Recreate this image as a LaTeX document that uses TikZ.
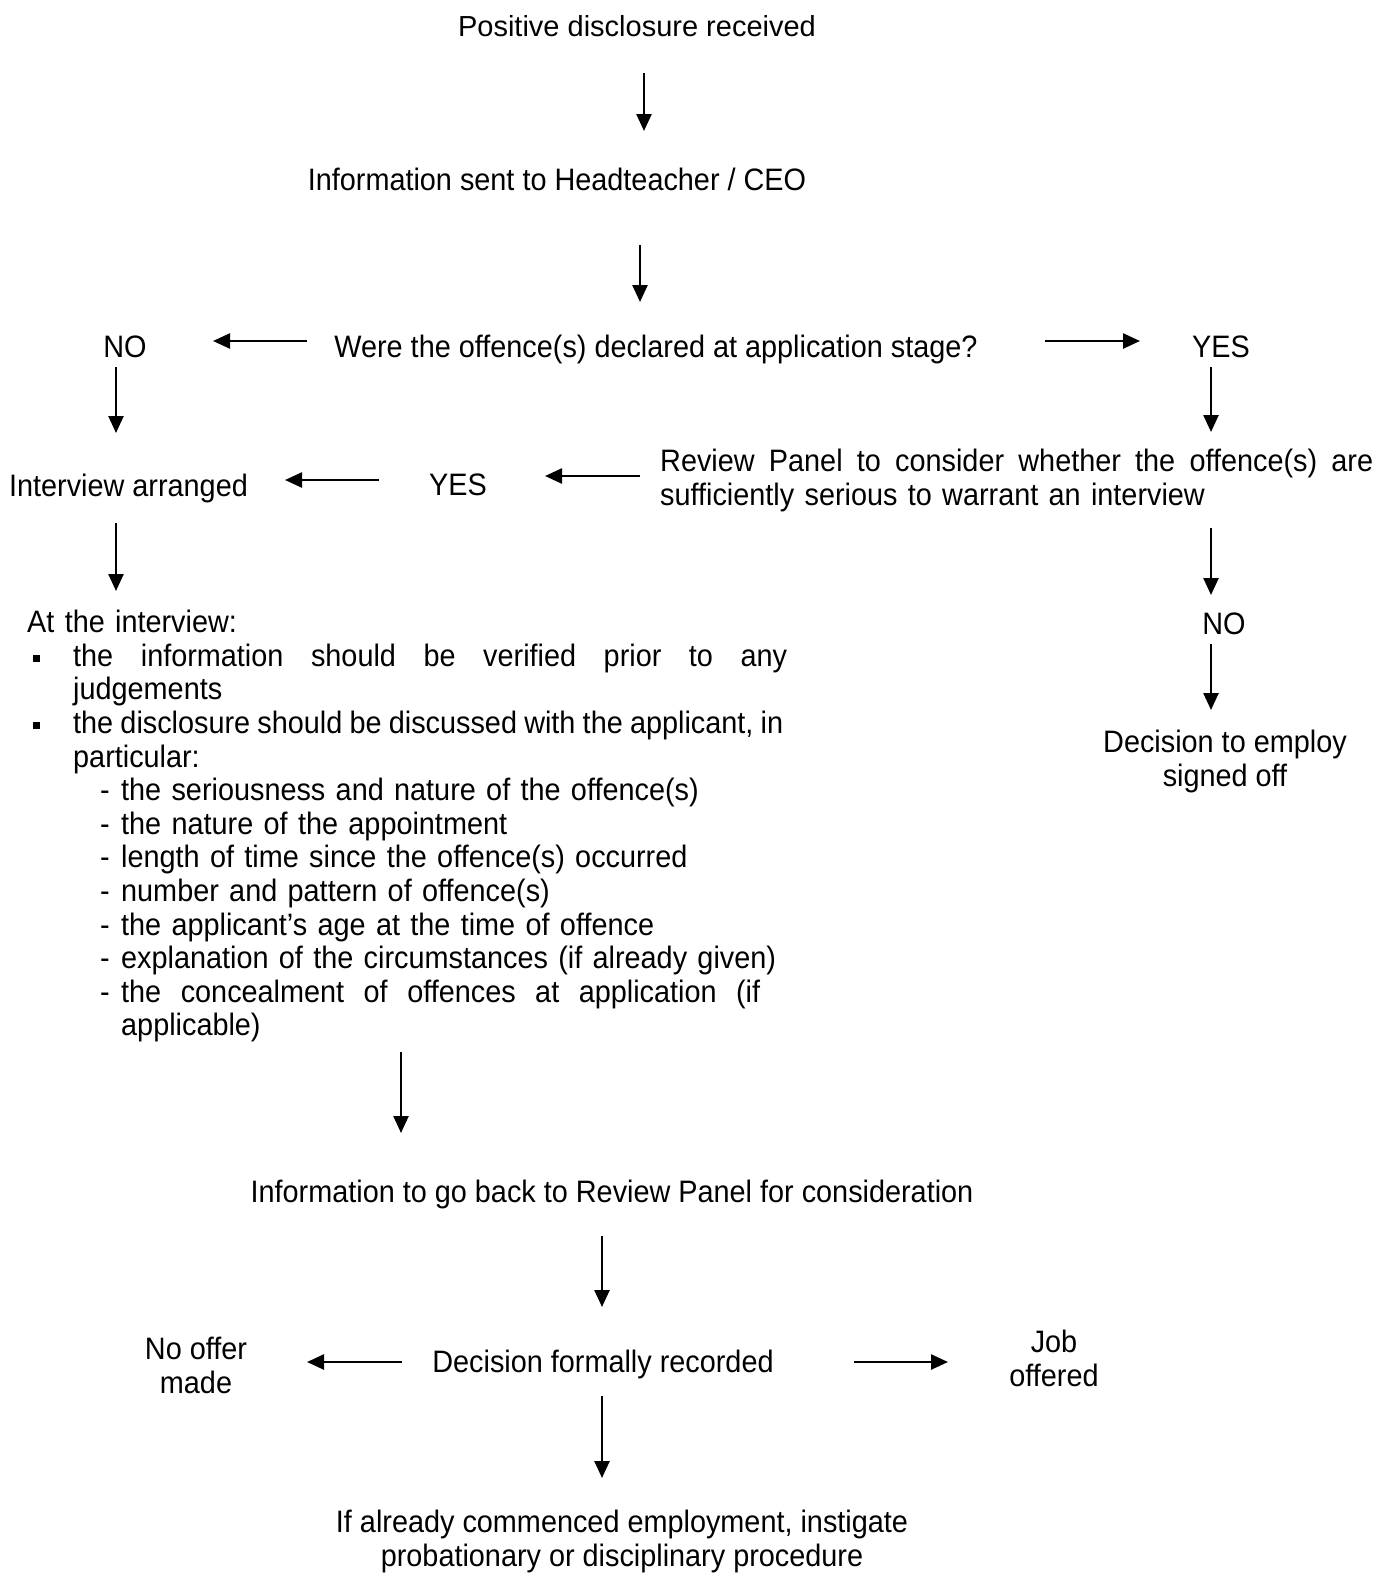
\documentclass[tikz,border=0pt]{standalone}
\usepackage{fontspec}
\setmainfont{Liberation Sans}[FakeStretch=0.93]
\newfontfamily\titlefont{Liberation Sans}
\usetikzlibrary{arrows.meta}
\newcommand{\bsq}{\makebox[46pt][l]{\hspace*{6pt}\rule[4pt]{7pt}{7pt}}}
\newcommand{\sdash}{\hspace*{73pt}\makebox[21pt][l]{-}}
\begin{document}
\begin{tikzpicture}[x=1pt,y=-1pt,
  lbl/.style={inner sep=0pt, font=\fontsize{31}{33.6}\selectfont},
  ttl/.style={inner sep=0pt, font=\titlefont\fontsize{29}{33.6}\selectfont},
  mlbl/.style={lbl, align=center},
  arr/.style={line width=2.5pt, -{Triangle[length=17pt,width=15pt]}}]
\useasboundingbox (0,0) rectangle (1388,1580);
\fill[white] (0,0) rectangle (1388,1580);

% nodes
\node[ttl, anchor=base] (pdr) at (637,36) {Positive disclosure received};
\node[lbl, anchor=base] (info) at (557,190) {Information sent to Headteacher / CEO};
\node[lbl, anchor=base] (q) at (656,357) {Were the offence(s) declared at application stage?};
\node[lbl, anchor=base] (no1) at (125,357) {NO};
\node[lbl, anchor=base] (yes1) at (1221,357) {YES};
\node[lbl, anchor=base] (ia) at (128.5,496) {Interview arranged};
\node[lbl, anchor=base] (yes2) at (458,495) {YES};
\node[lbl, anchor=north west, text width=713pt, align=left] (rp) at (660,449)
  {\hbox to 713pt{Review\hfill Panel\hfill to\hfill consider\hfill whether\hfill the\hfill offence(s)\hfill are}\\
   sufficiently serious to warrant an interview};
\node[lbl, anchor=base] (no2) at (1224,634) {NO};
\node[mlbl, anchor=north] (dte) at (1225,730) {Decision to employ\\signed off};
\node[lbl, anchor=north west, text width=780pt, align=left] (blk) at (27,610)
  {At the interview:\\
   \bsq\hbox to 714pt{the\hfill information\hfill should\hfill be\hfill verified\hfill prior\hfill to\hfill any}\\
   \hspace*{46pt}judgements\\
   \bsq\hbox to 710pt{the\hfill disclosure\hfill should\hfill be\hfill discussed\hfill with\hfill the\hfill applicant,\hfill in}\\
   \hspace*{46pt}particular:\\
   \sdash the seriousness and nature of the offence(s)\\
   \sdash the nature of the appointment\\
   \sdash length of time since the offence(s) occurred\\
   \sdash number and pattern of offence(s)\\
   \sdash the applicant’s age at the time of offence\\
   \sdash explanation of the circumstances (if already given)\\
   \sdash\hbox to 639pt{the\hfill concealment\hfill of\hfill offences\hfill at\hfill application\hfill (if}\\
   \hspace*{94pt}applicable)};
\node[lbl, anchor=base] (back) at (612,1202) {Information to go back to Review Panel for consideration};
\node[lbl, anchor=base] (dfr) at (603,1372) {Decision formally recorded};
\node[mlbl, anchor=north] (nom) at (196,1337) {No offer\\made};
\node[mlbl, anchor=north] (job) at (1054,1330) {Job\\offered};
\node[mlbl, anchor=north] (fin) at (622,1510) {If already commenced employment, instigate\\probationary or disciplinary procedure};

% connector end points
\coordinate (a1s) at (644,73);   \coordinate (a1e) at (644,131);
\coordinate (a2s) at (640,245);  \coordinate (a2e) at (640,302);
\coordinate (a3s) at (307,341);  \coordinate (a3e) at (213,341);
\coordinate (a4s) at (1045,341); \coordinate (a4e) at (1140,341);
\coordinate (a5s) at (116,367);  \coordinate (a5e) at (116,433);
\coordinate (a6s) at (1211,367); \coordinate (a6e) at (1211,432);
\coordinate (a7s) at (379,480);  \coordinate (a7e) at (285,480);
\coordinate (a8s) at (640,476);  \coordinate (a8e) at (545,476);
\coordinate (a9s) at (116,523);  \coordinate (a9e) at (116,591);
\coordinate (a10s) at (1211,528); \coordinate (a10e) at (1211,595);
\coordinate (a11s) at (1211,644); \coordinate (a11e) at (1211,710);
\coordinate (a12s) at (401,1052); \coordinate (a12e) at (401,1133);
\coordinate (a13s) at (602,1236); \coordinate (a13e) at (602,1307);
\coordinate (a14s) at (402,1362); \coordinate (a14e) at (307,1362);
\coordinate (a15s) at (854,1362); \coordinate (a15e) at (948,1362);
\coordinate (a16s) at (602,1396); \coordinate (a16e) at (602,1478);

\foreach \i in {1,...,16} {\draw[arr] (a\i s) -- (a\i e);}
\end{tikzpicture}
\end{document}
